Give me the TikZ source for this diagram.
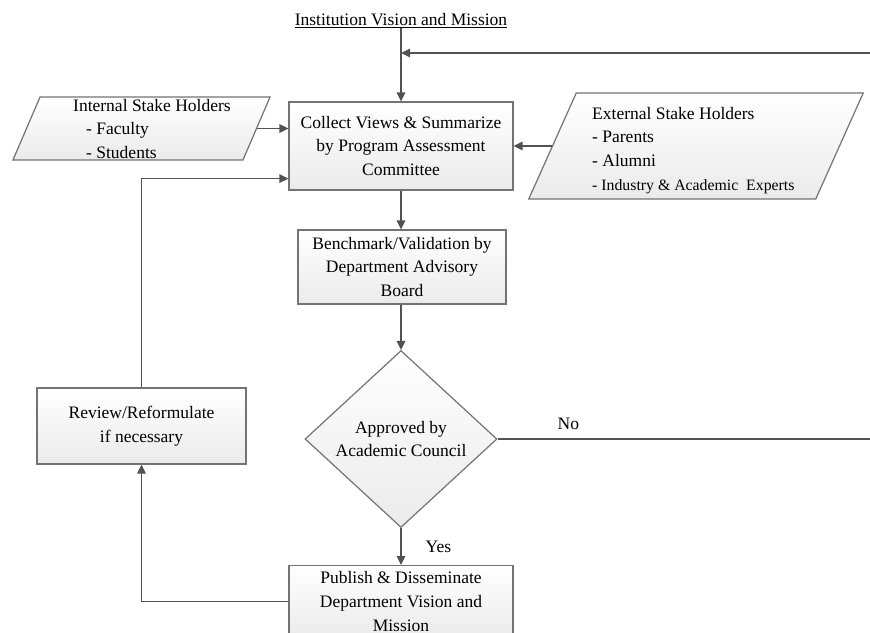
\documentclass[tikz,border=0pt]{standalone}
\usepackage{fontspec}
\setmainfont{Liberation Serif}
\usetikzlibrary{shapes.geometric,arrows.meta,positioning,calc}

\tikzset{
    txt/.style={font=\fontsize{17.5}{23.8}\selectfont, inner sep=0pt},
    box/.style={txt, draw=black!55, line width=1.2pt, top color=white, bottom color=black!8, align=center},
    para/.style={draw=black!55, line width=1.2pt, top color=white, bottom color=black!8, transform shape, inner sep=0pt},
    conn/.style={draw=black!68, line width=1.3pt, -{Triangle[length=9pt,width=8.5pt]}},
    plain/.style={draw=black!68, line width=1.3pt}
}

\begin{document}
\begin{tikzpicture}[x=1pt, y=-1pt]
    \useasboundingbox (0,0) rectangle (870,632);
    \clip (0,0) rectangle (870,632);

    % Process boxes
    \node[txt] (title) at (401,21) {\underline{Institution Vision and Mission}};
    \node[box, minimum width=224pt, minimum height=88pt] (coll) at (401,146) {Collect Views \& Summarize\\by Program Assessment\\Committee};
    \node[box, minimum width=208pt, minimum height=74pt] (bench) at (402,267) {Benchmark/Validation by\\Department Advisory\\Board};
    \node[box, diamond, aspect=1.08, minimum width=192pt, minimum height=177pt] (dec) at (401,439) {Approved by\\Academic Council};
    \node[box, anchor=north, minimum width=224pt, inner ysep=6pt] (pub) at (401,565) {Publish \& Disseminate\\Department Vision and\\Mission};
    \node[box, minimum width=209pt, minimum height=76pt] (review) at (141.5,426) {Review/Reformulate\\if necessary};

    % Stake holders (parallelograms)
    \node[para, xslant=0.43, minimum width=230pt, minimum height=63pt] (ints) at (141.5,128.5) {};
    \node[txt, anchor=north west, align=left] (ints-txt) at (73,98.7) {Internal Stake Holders\\\hspace*{13pt}- Faculty\\\hspace*{13pt}- Students};
    \node[para, xslant=0.448, minimum width=287pt, minimum height=106pt] (ext) at (696,146) {};
    \node[txt, anchor=north west, align=left] (ext-txt) at (592,106.7) {External Stake Holders\\- Parents\\- Alumni\\{\fontsize{15.8}{23.8}\selectfont - Industry \& Academic\ \ Experts}};

    % Connectors
    \coordinate (fb-in) at (870,53);
    \coordinate (no-out) at (870,439);
    \draw[conn] (title.south) -- (coll.north);
    \draw[conn] (fb-in) -- (fb-in -| coll.north);
    \draw[conn] (ints.east) -- (ints.east -| coll.west);
    \draw[conn] (ext.west) -- (ext.west -| coll.east);
    \draw[conn] (coll.south) -- (coll.south |- bench.north);
    \draw[conn] (bench.south -| dec.north) -- (dec.north);
    \draw[conn] (dec.south) -- (pub.north) node[txt, midway, right=24pt] {Yes};
    \draw[plain] (dec.east) -- (no-out) node[txt, pos=0.19, above=9pt] {No};
    \draw[conn] (pub.west) -| (review.south);
    \draw[conn] (review.north) |- ($(coll.south west)+(0,-12)$);
\end{tikzpicture}
\end{document}
